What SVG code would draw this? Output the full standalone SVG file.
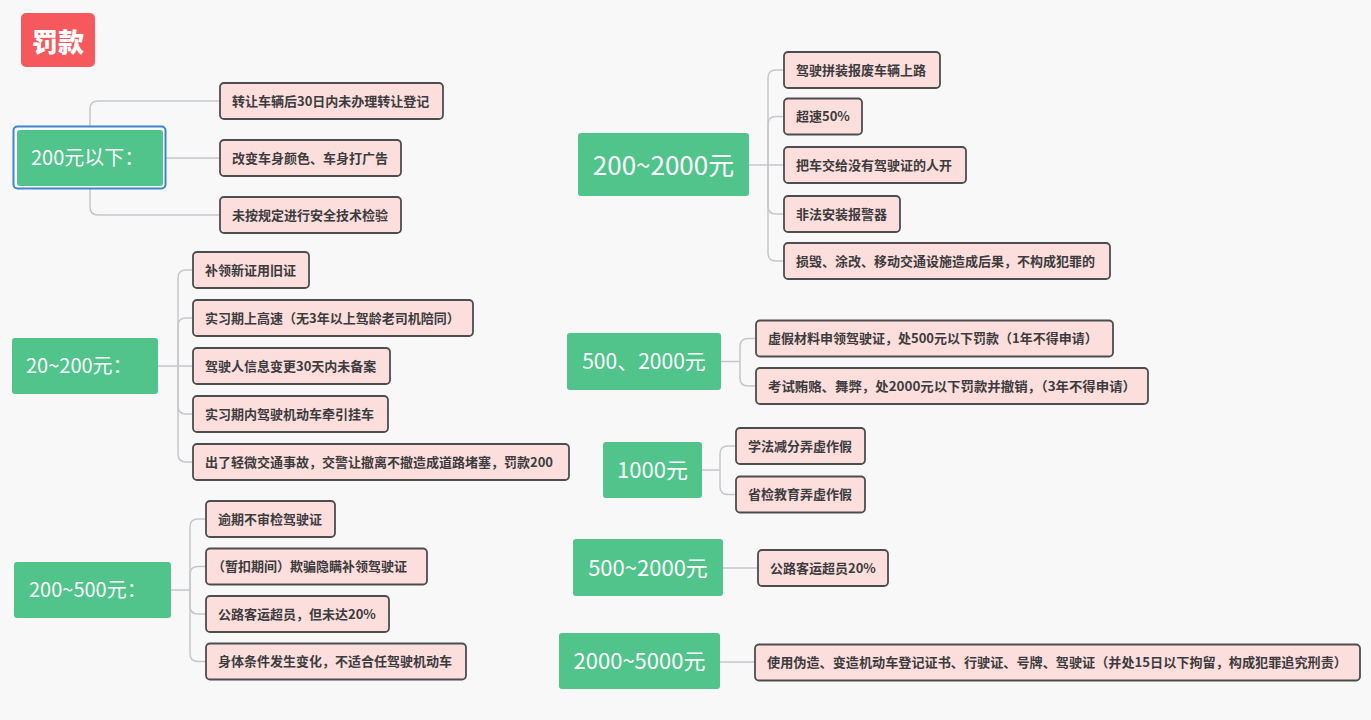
<svg xmlns="http://www.w3.org/2000/svg" width="1371" height="720" viewBox="0 0 1371 720">
<style>
.bg{fill:#f8f8f9}
.box{fill:#fcdedc;stroke:#4d4d4f;stroke-width:1.8}
.lbl{font-family:"Noto Sans CJK SC","Liberation Sans",sans-serif;font-size:13px;font-weight:bold;fill:#3c3c3e}
.gn{fill:#50c48b}
.gt{font-family:"Noto Sans CJK SC","Liberation Sans",sans-serif;fill:#ffffff;font-weight:normal}
.ln{fill:none;stroke:#c4c7cb;stroke-width:1.5}
</style>
<rect class="bg" x="0" y="0" width="1371" height="720"/>
<g id="connectors">
<path class="ln" d="M90,158 V109 Q90,101 98,101 H220"/>
<path class="ln" d="M166,158 H220"/>
<path class="ln" d="M90,158 V207 Q90,215 98,215 H220"/>
<path class="ln" d="M158,366 H193"/>
<path class="ln" d="M178,366 V278 Q178,270 186,270 H193"/>
<path class="ln" d="M178,366 V326 Q178,318 186,318 H193"/>
<path class="ln" d="M178,366 V406 Q178,414 186,414 H193"/>
<path class="ln" d="M178,366 V454 Q178,462 186,462 H193"/>
<path class="ln" d="M171,590 H190"/>
<path class="ln" d="M190,590 V527 Q190,519 198,519 H206"/>
<path class="ln" d="M190,590 V574.5 Q190,566.5 198,566.5 H206"/>
<path class="ln" d="M190,590 V606 Q190,614 198,614 H206"/>
<path class="ln" d="M190,590 V653.5 Q190,661.5 198,661.5 H206"/>
<path class="ln" d="M749,165 H784"/>
<path class="ln" d="M768,165 V78 Q768,70 776,70 H784"/>
<path class="ln" d="M768,165 V124.5 Q768,116.5 776,116.5 H784"/>
<path class="ln" d="M768,165 V206 Q768,214 776,214 H784"/>
<path class="ln" d="M768,165 V253 Q768,261 776,261 H784"/>
<path class="ln" d="M721,361.5 H740"/>
<path class="ln" d="M740,361.5 V346.5 Q740,338.5 748,338.5 H756"/>
<path class="ln" d="M740,361.5 V378 Q740,386 748,386 H756"/>
<path class="ln" d="M702,470 H720"/>
<path class="ln" d="M720,470 V454 Q720,446 728,446 H736"/>
<path class="ln" d="M720,470 V486.5 Q720,494.5 728,494.5 H736"/>
<path class="ln" d="M723,568 H758"/>
<path class="ln" d="M720,662 H755"/>
</g>
<g id="title">
<rect x="21" y="13" width="74" height="54" rx="5" fill="#f5595e"/>
<text x="58" y="51.5" text-anchor="middle" font-family="'Noto Sans CJK SC','Liberation Sans',sans-serif" font-size="26" font-weight="900" fill="#ffffff">罚款</text>
</g>
<g id="n1">
<rect x="13.5" y="126.5" width="152" height="62" rx="4" fill="#ffffff" stroke="#3d84c8" stroke-width="2"/>
<rect class="gn" x="17" y="130" width="146" height="56" rx="3"/>
<text class="gt" x="31" y="165" font-size="20">200元以下：</text>
</g>
<g id="n1c1"><rect class="box" x="220" y="83" width="223" height="36" rx="4"/><text class="lbl" x="232" y="105.5">转让车辆后30日内未办理转让登记</text></g>
<g id="n1c2"><rect class="box" x="220" y="140" width="181" height="36" rx="4"/><text class="lbl" x="232" y="162.5">改变车身颜色、车身打广告</text></g>
<g id="n1c3"><rect class="box" x="220" y="197" width="181" height="36" rx="4"/><text class="lbl" x="232" y="219.5">未按规定进行安全技术检验</text></g>

<g id="n2">
<rect class="gn" x="12" y="338" width="146" height="56" rx="3"/>
<text class="gt" x="26" y="373" font-size="20">20~200元：</text>
</g>
<g id="n2c1"><rect class="box" x="193" y="252" width="116" height="36" rx="4"/><text class="lbl" x="205" y="274.5">补领新证用旧证</text></g>
<g id="n2c2"><rect class="box" x="193" y="300" width="280" height="36" rx="4"/><text class="lbl" x="205" y="322.5">实习期上高速（无3年以上驾龄老司机陪同）</text></g>
<g id="n2c3"><rect class="box" x="193" y="348" width="197" height="36" rx="4"/><text class="lbl" x="205" y="370.5">驾驶人信息变更30天内未备案</text></g>
<g id="n2c4"><rect class="box" x="193" y="396" width="195" height="36" rx="4"/><text class="lbl" x="205" y="418.5">实习期内驾驶机动车牵引挂车</text></g>
<g id="n2c5"><rect class="box" x="193" y="444" width="376" height="36" rx="4"/><text class="lbl" x="205" y="466.5">出了轻微交通事故，交警让撤离不撤造成道路堵塞，罚款200</text></g>

<g id="n3">
<rect class="gn" x="14" y="562" width="157" height="56" rx="3"/>
<text class="gt" x="29" y="597" font-size="20">200~500元：</text>
</g>
<g id="n3c1"><rect class="box" x="206" y="501" width="129" height="36" rx="4"/><text class="lbl" x="218" y="523.5">逾期不审检驾驶证</text></g>
<g id="n3c2"><rect class="box" x="206" y="548.5" width="221" height="36" rx="4"/><text class="lbl" x="212" y="571">（暂扣期间）欺骗隐瞒补领驾驶证</text></g>
<g id="n3c3"><rect class="box" x="206" y="596" width="183" height="36" rx="4"/><text class="lbl" x="218" y="618.5">公路客运超员，但未达20%</text></g>
<g id="n3c4"><rect class="box" x="206" y="643.5" width="260" height="36" rx="4"/><text class="lbl" x="218" y="666">身体条件发生变化，不适合任驾驶机动车</text></g>

<g id="n4">
<rect class="gn" x="578" y="133" width="171" height="63" rx="3"/>
<text class="gt" x="663.5" y="175" font-size="26" text-anchor="middle">200~2000元</text>
</g>
<g id="n4c1"><rect class="box" x="784" y="52" width="156" height="36" rx="4"/><text class="lbl" x="796" y="74.5">驾驶拼装报废车辆上路</text></g>
<g id="n4c2"><rect class="box" x="784" y="98.5" width="78" height="36" rx="4"/><text class="lbl" x="796" y="121">超速50%</text></g>
<g id="n4c3"><rect class="box" x="784" y="147" width="182" height="36" rx="4"/><text class="lbl" x="796" y="169.5">把车交给没有驾驶证的人开</text></g>
<g id="n4c4"><rect class="box" x="784" y="196" width="116" height="36" rx="4"/><text class="lbl" x="796" y="218.5">非法安装报警器</text></g>
<g id="n4c5"><rect class="box" x="784" y="243" width="326" height="36" rx="4"/><text class="lbl" x="796" y="265.5">损毁、涂改、移动交通设施造成后果，不构成犯罪的</text></g>

<g id="n5">
<rect class="gn" x="567" y="333" width="154" height="57" rx="3"/>
<text class="gt" x="644" y="369" font-size="21" text-anchor="middle">500、2000元</text>
</g>
<g id="n5c1"><rect class="box" x="756" y="320.5" width="357" height="36" rx="4"/><text class="lbl" x="768" y="343">虚假材料申领驾驶证，处500元以下罚款（1年不得申请）</text></g>
<g id="n5c2"><rect class="box" x="756" y="368" width="392" height="36" rx="4"/><text class="lbl" x="768" y="390.5" textLength="368" lengthAdjust="spacingAndGlyphs">考试贿赂、舞弊，处2000元以下罚款并撤销，（3年不得申请）</text></g>

<g id="n6">
<rect class="gn" x="603" y="442" width="99" height="56" rx="3"/>
<text class="gt" x="652.5" y="478" font-size="22" text-anchor="middle">1000元</text>
</g>
<g id="n6c1"><rect class="box" x="736" y="428" width="129" height="36" rx="4"/><text class="lbl" x="748" y="450.5">学法减分弄虚作假</text></g>
<g id="n6c2"><rect class="box" x="736" y="476.5" width="129" height="36" rx="4"/><text class="lbl" x="748" y="499">省检教育弄虚作假</text></g>

<g id="n7">
<rect class="gn" x="573" y="539" width="150" height="57" rx="3"/>
<text class="gt" x="648" y="575.5" font-size="22" text-anchor="middle">500~2000元</text>
</g>
<g id="n7c1"><rect class="box" x="758" y="550" width="130" height="36" rx="4"/><text class="lbl" x="770" y="572.5">公路客运超员20%</text></g>

<g id="n8">
<rect class="gn" x="559" y="633" width="161" height="56" rx="3"/>
<text class="gt" x="639.5" y="669" font-size="22" text-anchor="middle">2000~5000元</text>
</g>
<g id="n8c1"><rect class="box" x="755" y="644.5" width="605" height="36" rx="4"/><text class="lbl" x="767" y="667" textLength="580" lengthAdjust="spacingAndGlyphs">使用伪造、变造机动车登记证书、行驶证、号牌、驾驶证（并处15日以下拘留，构成犯罪追究刑责）</text></g>
</svg>
